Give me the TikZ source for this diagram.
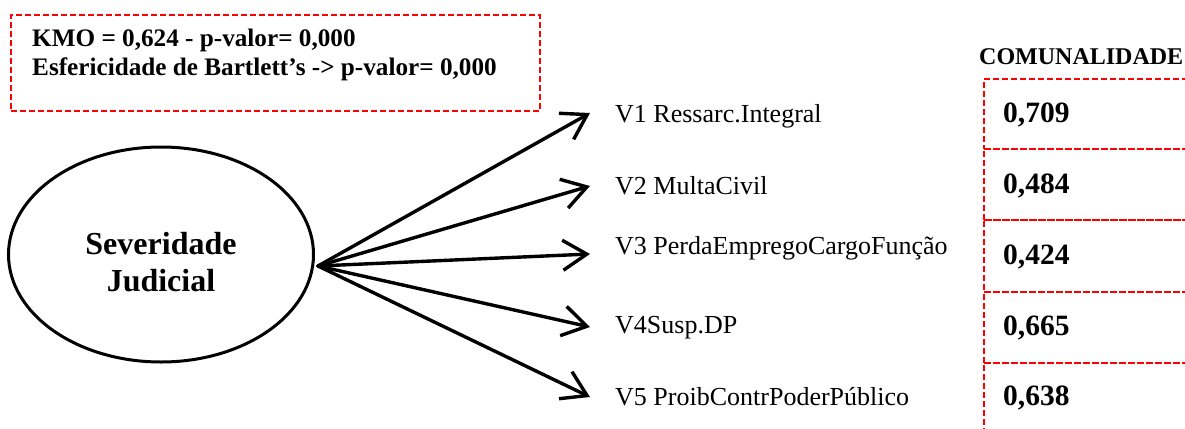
\documentclass[tikz,border=0pt]{standalone}
\usepackage{fontspec}
\setmainfont{Liberation Serif}
\usetikzlibrary{arrows.meta,shapes.geometric}
\begin{document}
\begin{tikzpicture}[x=1pt,y=-1pt,
  redbox/.style={draw=red, line width=1.6pt, dash pattern=on 6pt off 3pt, inner sep=0pt, anchor=north west},
  arr/.style={line width=3.4pt, -{Straight Barb[length=24pt,width=30pt]}, line cap=round, line join=round},
  lbl/.style={anchor=base west, inner sep=0pt, font=\rmfamily\fontsize{26}{30}\selectfont},
  num/.style={anchor=base west, inner sep=0pt, font=\fontsize{29.5}{32}\selectfont\bfseries},
  info/.style={anchor=base west, inner sep=0pt, font=\fontsize{25.2}{28}\selectfont\bfseries},
]
\useasboundingbox (0,0) rectangle (1185,428);
\clip (0,0) rectangle (1185,428);

% top-left info box
\node[redbox, minimum width=529pt, minimum height=96pt] (kmobox) at (10,14) {};
\node[info] (kmo1) at (32,47) {KMO = 0,624 - p-valor= 0,000};
\node[info] (kmo2) at (32,75) {Esfericidade de Bartlett’s -> p-valor= 0,000};

% latent variable
\node[ellipse, draw, line width=3pt, minimum width=305pt, minimum height=215pt, inner sep=0pt] (sev) at (161,254.5) {};
\node[align=center, inner sep=0pt, font=\fontsize{32}{37}\selectfont\bfseries] (sevtxt) at (161,262.5) {Severidade\\Judicial};

% arrows
\coordinate (src) at (318,266);
\coordinate (t1) at (590,113);
\coordinate (t2) at (590,186);
\coordinate (t3) at (590,254);
\coordinate (t4) at (590,327);
\coordinate (t5) at (590,397);
\foreach \i in {1,...,5} \draw[arr] (src) -- (t\i);

% indicator labels
\node[lbl] (v1) at (615,122) {V1 Ressarc.Integral};
\node[lbl] (v2) at (615,194) {V2 MultaCivil};
\node[lbl] (v3) at (615,254) {V3 PerdaEmpregoCargoFunção};
\node[lbl] (v4) at (615,333) {V4Susp.DP};
\node[lbl] (v5) at (615,405) {V5 ProibContrPoderPúblico};

% communality column
\node[anchor=base west, inner sep=0pt, font=\fontsize{24}{28}\selectfont\bfseries] (com) at (979,65) {COMUNALIDADE};
\node[redbox, minimum width=220pt, minimum height=70pt] (b1) at (983,78) {};
\node[redbox, minimum width=220pt, minimum height=71pt] (b2) at (983,148) {};
\node[redbox, minimum width=220pt, minimum height=72pt] (b3) at (983,219) {};
\node[redbox, minimum width=220pt, minimum height=71pt] (b4) at (983,291) {};
\node[redbox, minimum width=220pt, minimum height=80pt] (b5) at (983,362) {};
\node[num] (n1) at (1003,122) {0,709};
\node[num] (n2) at (1003,193) {0,484};
\node[num] (n3) at (1003,264) {0,424};
\node[num] (n4) at (1003,335) {0,665};
\node[num] (n5) at (1003,405) {0,638};
\end{tikzpicture}
\end{document}
